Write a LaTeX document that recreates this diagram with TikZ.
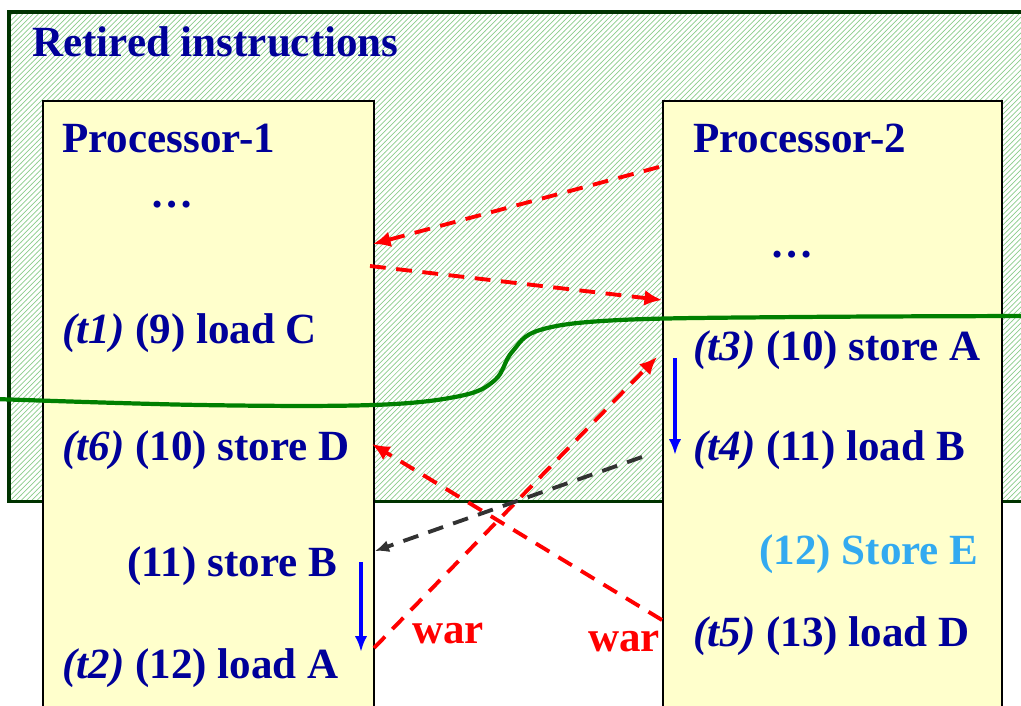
\documentclass[tikz,border=0pt]{standalone}
\usepackage{fontspec}
\setmainfont{Liberation Serif}
\usetikzlibrary{arrows.meta, positioning, patterns}
\definecolor{navy}{RGB}{0, 0, 153}
\definecolor{skyblue}{RGB}{51, 170, 240}
\definecolor{pale}{RGB}{255, 255, 204}
\definecolor{hatch}{RGB}{140, 205, 140}
\definecolor{darkgreen}{RGB}{0, 51, 0}
\definecolor{curvegreen}{RGB}{0, 128, 0}
\definecolor{darkgray}{RGB}{50, 50, 50}

\begin{document}
\begin{tikzpicture}[
  x=0.02cm, y=-0.02cm,
  every node/.style={font=\fontsize{24.5}{28}\selectfont\bfseries, text=navy, inner sep=0pt},
  region/.style={draw=darkgreen, line width=2pt, preaction={fill=white},
                 pattern=north east lines, pattern color=hatch, anchor=north west},
  proc/.style={draw=black, line width=1.4pt, fill=pale, anchor=north west, minimum height=13cm},
  instr/.style={anchor=base west},
  dep/.style={-{Latex[length=10pt, width=9pt]}, red, line width=2.2pt, dash pattern=on 9pt off 6pt},
  rev/.style={-{Latex[length=8pt, width=7pt]}, darkgray, line width=2.2pt, dash pattern=on 9pt off 6pt},
  order/.style={-{Latex[length=9pt, width=7pt]}, blue, line width=2pt},
  warlab/.style={anchor=base west, text=red}
]
\useasboundingbox (0,0) rectangle (1021,706);
\clip (0,0) rectangle (1021,706);

% retired region and the two processors
\node[region, minimum width=21cm, minimum height=9.8cm] (retired) at (7,10) {};
\node[proc, minimum width=6.62cm] (p1) at (42,100) {};
\node[proc, minimum width=6.78cm] (p2) at (662,100) {};

\node[instr] (title) at (32,57) {Retired instructions};

% processor-1
\node[instr] (name1) at (62,153) {Processor-1};
\node[instr] (dots1) at (150,207) {\ldots};
\node[instr] (ldc)   at (62,343) {\textit{(t1)} (9) load C};
\node[instr] (std)   at (62,460) {\textit{(t6)} (10) store D};
\node[instr] (stb)   at (127,576) {(11) store B};
\node[instr] (lda)   at (62,678) {\textit{(t2)} (12) load A};

% processor-2
\node[instr] (name2) at (693,153) {Processor-2};
\node[instr] (dots2) at (770,257) {\ldots};
\node[instr] (sta)   at (693,360) {\textit{(t3)} (10) store A};
\node[instr] (ldb)   at (693,460) {\textit{(t4)} (11) load B};
\node[instr, text=skyblue] (ste) at (759,564) {(12) Store E};
\node[instr] (ldd)   at (693,646) {\textit{(t5)} (13) load D};

\node[warlab] (war1) at (412,643) {war};
\node[warlab] (war2) at (588,651) {war};

% retirement frontier
\draw[curvegreen, line width=2.4pt] plot[smooth, tension=0.6] coordinates
  {(-5,399) (200,405) (373,405) (460,396) (495,380) (512,352) (540,330) (620,320) (800,317) (1030,316)};

% end points on the box edges
\coordinate (a1) at (659,167);
\coordinate (a2) at (373,244);
\coordinate (b1) at (370,266);
\coordinate (b2) at (662,300);
\coordinate (c1) at (374,648);
\coordinate (c2) at (657,357);
\coordinate (d1) at (662,620);
\coordinate (d2) at (372,444);
\coordinate (e1) at (642,457);
\coordinate (e2) at (375,551);
\coordinate (f1) at (675,358);
\coordinate (f2) at (675,455);
\coordinate (g1) at (361,562);
\coordinate (g2) at (361,652);

\draw[dep] (a1) -- (a2);
\draw[dep] (b1) -- (b2);
\draw[dep] (c1) -- (c2);
\draw[dep] (d1) -- (d2);
\draw[rev] (e1) -- (e2);
\draw[order] (f1) -- (f2);
\draw[order] (g1) -- (g2);

\end{tikzpicture}
\end{document}
